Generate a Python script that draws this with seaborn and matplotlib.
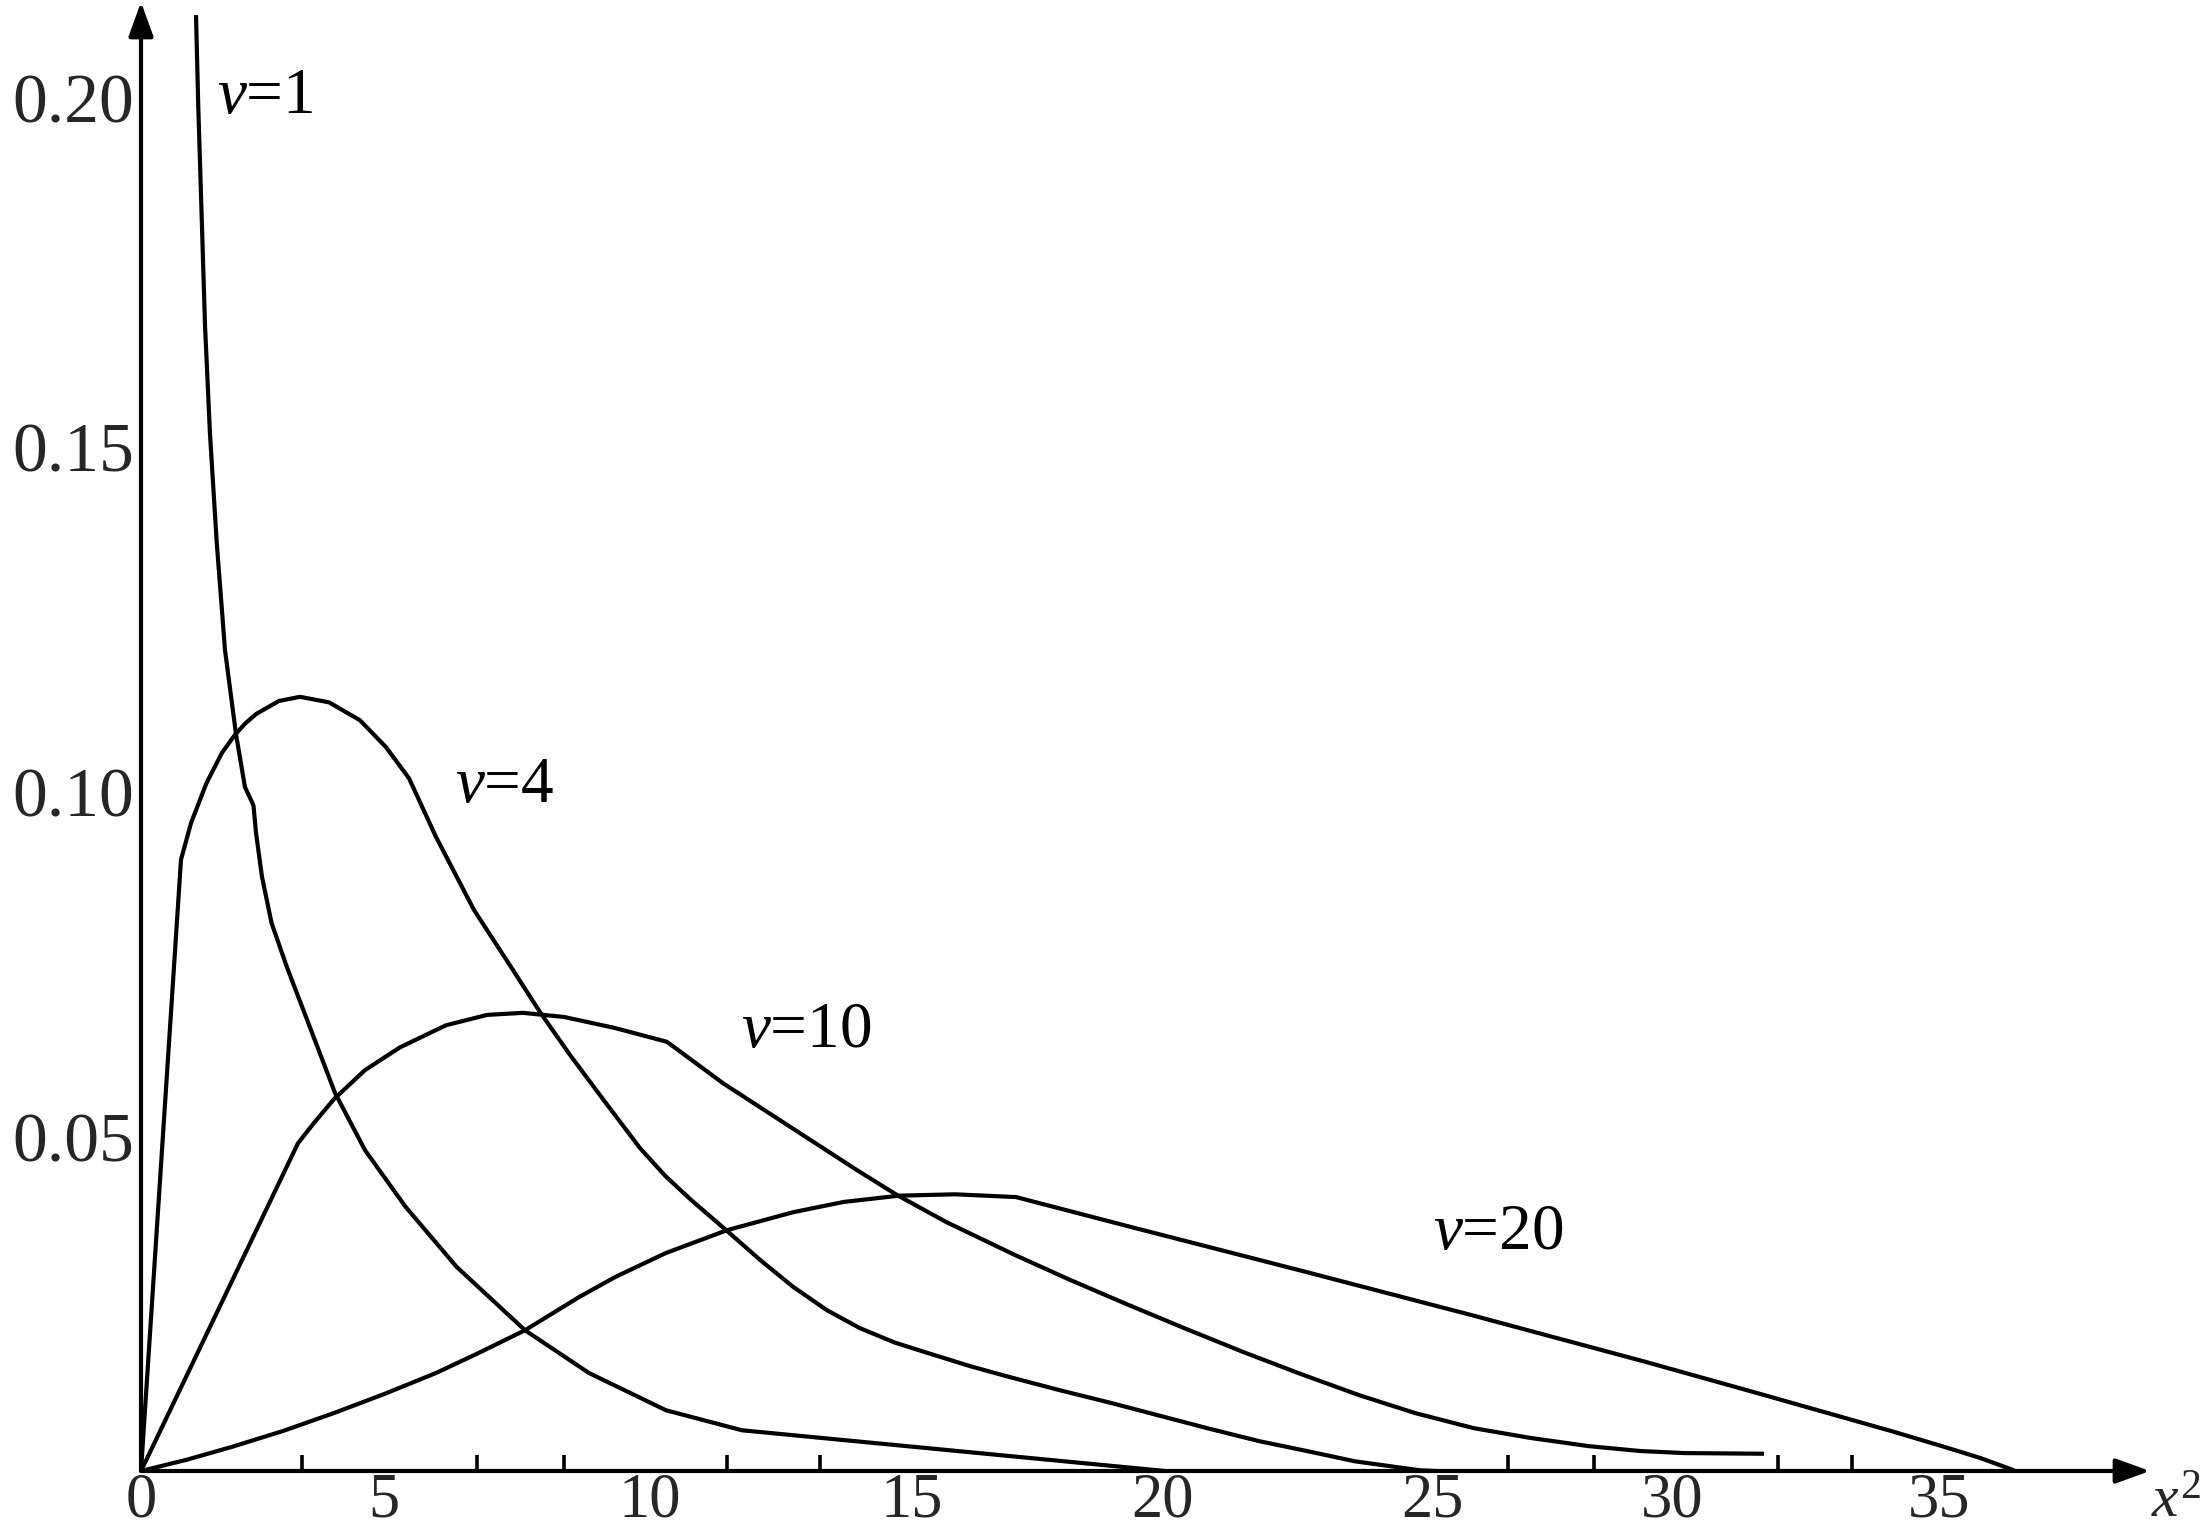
import numpy as np
import pandas as pd
import matplotlib
matplotlib.use("Agg")
import matplotlib.pyplot as plt
import seaborn as sns

# ---------------- data ----------------
v1_x = [1.070, 1.115, 1.181, 1.245, 1.342, 1.473, 1.634, 1.848, 2.023, 2.150, 2.189, 2.237,
        2.354, 2.541, 2.840, 3.210, 3.774, 4.358, 5.146, 6.138, 7.471, 8.716, 10.214, 11.693, 19.922]
v1_y = [0.2110, 0.1975, 0.1817, 0.1661, 0.1503, 0.1346, 0.1190, 0.1068, 0.0991, 0.0971, 0.0964, 0.0925,
        0.0861, 0.0794, 0.0730, 0.0658, 0.0548, 0.0465, 0.0383, 0.0296, 0.0204, 0.0142, 0.0088, 0.0059, 0.0]

v4_x = [0.0, 0.778, 0.973, 1.274, 1.576, 1.829, 2.023, 2.237, 2.685, 3.093, 3.658, 4.261, 4.767, 5.214,
        5.739, 6.479, 7.237, 7.763, 8.346, 9.027, 9.708, 10.195, 10.700, 11.401, 12.043, 12.685, 13.346,
        13.988, 14.669, 15.350, 16.128, 16.907, 17.879, 18.852, 19.825, 20.798, 21.770, 22.743, 23.619,
        24.397, 24.883, 25.214]
v4_y = [0.0, 0.0886, 0.0939, 0.0997, 0.1041, 0.1067, 0.1083, 0.1097, 0.1116, 0.1122, 0.1114, 0.1088, 0.1049,
        0.1004, 0.0919, 0.0813, 0.0726, 0.0665, 0.0603, 0.0535, 0.0468, 0.0428, 0.0393, 0.0348, 0.0306,
        0.0267, 0.0233, 0.0207, 0.0186, 0.0170, 0.0152, 0.0136, 0.0117, 0.0099, 0.0080, 0.0061, 0.0043,
        0.0028, 0.0014, 0.0006, 0.0001, 0.0]

v10_x = [0.0, 3.054, 3.360, 3.755, 4.358, 5.039, 5.934, 6.732, 7.432, 8.230, 9.222, 10.233, 11.323,
         12.626, 13.930, 14.708, 15.661, 17.004, 18.074, 19.202, 20.331, 21.459, 22.549, 23.696, 24.786,
         25.934, 27.023, 28.171, 29.163, 30.019, 31.576]
v10_y = [0.0, 0.0475, 0.0504, 0.0539, 0.0581, 0.0614, 0.0646, 0.0661, 0.0664, 0.0658, 0.0642, 0.0622, 0.0562,
         0.0499, 0.0436, 0.0400, 0.0361, 0.0313, 0.0277, 0.0241, 0.0206, 0.0172, 0.0141, 0.0110, 0.0084,
         0.0062, 0.0048, 0.0036, 0.0029, 0.0026, 0.0025]

v20_x = [0.0, 0.875, 1.770, 2.763, 3.755, 4.747, 5.739, 6.595, 7.471, 8.521, 9.222, 10.214, 11.401,
         12.685, 13.677, 14.747, 15.837, 17.023, 19.241, 22.588, 25.934, 29.280, 31.440, 34.047, 35.039,
         35.778, 36.440]
v20_y = [0.0, 0.0016, 0.0035, 0.0058, 0.0084, 0.0112, 0.0142, 0.0172, 0.0204, 0.0252, 0.0281, 0.0316, 0.0349,
         0.0375, 0.0390, 0.0399, 0.0401, 0.0397, 0.0354, 0.0290, 0.0225, 0.0158, 0.0113, 0.0058, 0.0036,
         0.0019, 0.0001]

series_names = ["v=1", "v=4", "v=10", "v=20"]
curve_labels = [r"$v$=1", r"$v$=4", r"$v$=10", r"$v$=20"]
label_x = [1.479, 6.109, 11.673, 25.136]
label_y = [0.1968, 0.0970, 0.0614, 0.0322]

# axis tick labels and where they sit
xtick_labels = ["0", "5", "10", "15", "20", "25", "30", "35"]
xtick_label_pos = [0.0, 4.73, 9.90, 15.0, 19.88, 25.12, 29.79, 34.98]
x_long_ticks = [4.77, 9.79, 14.75, 21.50, 25.16, 30.04, 35.04]
x_short_ticks = [3.13, 6.54, 8.23, 11.40, 13.21, 26.60, 28.27, 31.85, 33.29]
ytick_labels = ["0.05", "0.10", "0.15", "0.20"]
ytick_pos = [0.0484, 0.0984, 0.1484, 0.1990]

# ---------------- style ----------------
sns.set_style("white")
plt.rcParams["font.family"] = ["Liberation Serif", "DejaVu Serif"]
plt.rcParams["mathtext.fontset"] = "custom"
plt.rcParams["mathtext.rm"] = "Liberation Serif"
plt.rcParams["mathtext.it"] = "Liberation Serif:italic"

W, H = 2206, 1533
fig = plt.figure(figsize=(W / 100, H / 100), dpi=100)
x0_px, y0_px = 141, 1471
xtip_px, ytip_px = 2150, 2
ax = fig.add_axes([x0_px / W, (H - y0_px) / H, (xtip_px - x0_px) / W, (y0_px - ytip_px) / H])
ax.set_facecolor("none")
ax.set_xlim(0, (xtip_px - x0_px) / 51.4)
ax.set_ylim(0, (y0_px - ytip_px) / 6900)

frames = []
for name, xs, ys in zip(series_names, [v1_x, v4_x, v10_x, v20_x], [v1_y, v4_y, v10_y, v20_y]):
    frames.append(pd.DataFrame({"x": xs, "y": ys, "series": name}))
df = pd.concat(frames, ignore_index=True)

sns.lineplot(data=df, x="x", y="y", hue="series", units="series", estimator=None, sort=False,
             palette={n: "black" for n in series_names}, legend=False, linewidth=3.0, ax=ax,
             solid_joinstyle="round", solid_capstyle="butt")

for lab, lx, ly in zip(curve_labels, label_x, label_y):
    ax.text(lx, ly, lab, fontsize=47, ha="left", va="baseline", color="black")

# spines replaced by arrows
for s in ax.spines.values():
    s.set_visible(False)
arrow_kw = dict(arrowstyle="-|>,head_length=1.05,head_width=0.38", lw=3.0, color="black",
                mutation_scale=20, shrinkA=0, shrinkB=0)
ax.annotate("", xy=(1, 0), xytext=(0, 0), xycoords="axes fraction", textcoords="axes fraction",
            arrowprops=arrow_kw, annotation_clip=False)
ax.annotate("", xy=(0, 1), xytext=(0, 0), xycoords="axes fraction", textcoords="axes fraction",
            arrowprops=arrow_kw, annotation_clip=False)

# x ticks: labels (no marks), long marks (minor), short marks (secondary axis)
ax.set_xticks(xtick_label_pos, xtick_labels)
ax.set_xticks(x_long_ticks, minor=True)
ax.tick_params(axis="x", which="major", length=0, pad=1, labelsize=45)
ax.tick_params(axis="x", which="minor", direction="in", length=17.5, width=2.6, color="black")
sec = ax.secondary_xaxis(0)
sec.set_xticks(x_short_ticks)
sec.tick_params(axis="x", direction="in", length=11.5, width=2.6, labelbottom=False, color="black")
for s in sec.spines.values():
    s.set_visible(False)

ax.set_yticks(ytick_pos, ytick_labels)
ax.tick_params(axis="y", which="major", direction="in", length=16.5, width=2.6, pad=5, labelsize=50,
               color="black")
ax.set_xlabel("")
ax.set_ylabel("")

fig.text(2151 / W, (H - 1517) / H, r"$x^2$", fontsize=43, ha="left", va="baseline")

fig.savefig("out.png", dpi=100, facecolor="white")
